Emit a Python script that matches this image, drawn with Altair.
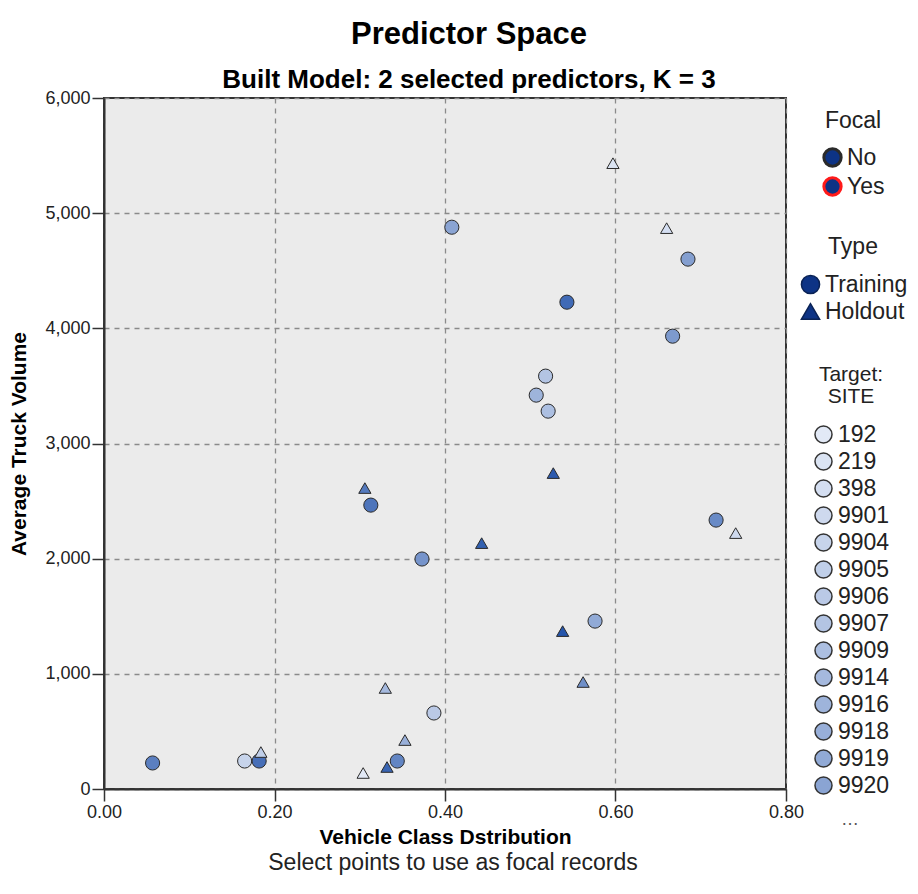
import altair as alt
import pandas as pd

# ---- data ----
x_vals = [0.408, 0.543, 0.685, 0.667, 0.518, 0.507, 0.521, 0.313, 0.373, 0.718,
          0.576, 0.387, 0.057, 0.165, 0.182, 0.344,
          0.597, 0.660, 0.306, 0.527, 0.443, 0.741, 0.538, 0.562, 0.330, 0.353,
          0.184, 0.304, 0.332]
y_vals = [4878, 4227, 4601, 3932, 3585, 3420, 3281, 2465, 1997, 2335,
          1458, 660, 226, 243, 243, 243,
          5434, 4870, 2613, 2743, 2135, 2222, 1371, 929, 877, 425,
          321, 139, 191]
types = ["Training"] * 16 + ["Holdout"] * 13
site_idx = [13, 24, 14, 15, 7, 10, 8, 22, 16, 18,
            12, 6, 20, 4, 23, 19,
            1, 2, 21, 27, 26, 3, 28, 17, 9, 11,
            5, 0, 25]
sites = ["192", "219", "398", "9901", "9904", "9905", "9906", "9907", "9909",
         "9914", "9916", "9918", "9919", "9920", "9921", "9922", "9923", "9924",
         "9925", "9926", "9927", "9928", "9929", "9930", "9931", "9932", "9933",
         "9934", "9935"]
legend_sites = sites[:14]
focal = ["No"] * 29

df = pd.DataFrame({
    "Vehicle Class Dstribution": x_vals,
    "Average Truck Volume": y_vals,
    "Type": types,
    "SITE": [sites[i] for i in site_idx],
    "Focal": focal,
})

# colour ramp for the site legend (style)
def ramp(c0, c1, n):
    a = [int(c0[i:i + 2], 16) for i in (1, 3, 5)]
    b = [int(c1[i:i + 2], 16) for i in (1, 3, 5)]
    out = []
    for k in range(n):
        t = k / (n - 1)
        out.append("#" + "".join(f"{round(a[j] + (b[j] - a[j]) * t):02x}" for j in range(3)))
    return out

site_colors = ramp("#e2e9f6", "#2555ab", len(sites))
NAVY = "#0d3385"
FONT = "Liberation Sans"

points = alt.Chart(df).mark_point(filled=True, opacity=1, strokeWidth=1).encode(
    x=alt.X("Vehicle Class Dstribution:Q",
            scale=alt.Scale(domain=[0, 0.8], nice=False, zero=False),
            axis=alt.Axis(values=[0, 0.2, 0.4, 0.6, 0.8], format=".2f",
                          labelFlush=False, titlePadding=5)),
    y=alt.Y("Average Truck Volume:Q",
            scale=alt.Scale(domain=[0, 6000], nice=False),
            axis=alt.Axis(values=[0, 1000, 2000, 3000, 4000, 5000, 6000],
                          format=",d", labelFlush=False, titlePadding=15)),
    fill=alt.Fill("SITE:N", sort=sites,
                  scale=alt.Scale(domain=sites, range=site_colors),
                  legend=alt.Legend(title=["Target:", "SITE"], orient="none",
                                    legendX=708, legendY=266, values=legend_sites,
                                    symbolType="circle", symbolSize=290,
                                    symbolStrokeColor="#333333",
                                    symbolStrokeWidth=1.5, rowPadding=2,
                                    titleFontSize=21, titlePadding=16,
                                    titleLineHeight=22)),
    stroke=alt.Stroke("Focal:N",
                      scale=alt.Scale(domain=["No", "Yes"], range=["#2a2a2a", "#ff1a1a"]),
                      legend=alt.Legend(title="Focal", orient="none", legendX=717,
                                        legendY=12, symbolType="circle",
                                        symbolSize=300, symbolStrokeWidth=3,
                                        symbolFillColor=NAVY, rowPadding=-2,
                                        titlePadding=13)),
    shape=alt.Shape("Type:N",
                    scale=alt.Scale(domain=["Training", "Holdout"],
                                    range=["circle", "triangle-up"]),
                    legend=alt.Legend(title="Type", orient="none", legendX=695,
                                      legendY=138, symbolSize=330,
                                      symbolFillColor=NAVY,
                                      symbolStrokeColor="#0a2255",
                                      symbolStrokeWidth=1.5, rowPadding=3,
                                      titlePadding=14)),
    size=alt.condition(alt.datum.Type == "Training", alt.value(200), alt.value(150)),
)

caption = alt.Chart(pd.DataFrame({"t": ["Select points to use as focal records"]})).mark_text(
    font=FONT, fontSize=23, color="#222222", align="center", baseline="middle"
).encode(x=alt.value(349), y=alt.value(765), text="t:N")

more = alt.Chart(pd.DataFrame({"t": ["…"]})).mark_text(
    font=FONT, fontSize=18, color="#555555", align="left", baseline="middle"
).encode(x=alt.value(737), y=alt.value(722), text="t:N")

chart = alt.layer(points, caption, more).properties(
    width=682, height=691,
    padding={"left": 96, "top": 90, "right": 124, "bottom": 97},
    autosize=alt.AutoSizeParams(type="none"),
    title=alt.TitleParams(
        "Predictor Space",
        subtitle="Built Model: 2 selected predictors, K = 3",
        font=FONT, fontSize=31, fontWeight="bold", color="#000000",
        subtitleFont=FONT, subtitleFontSize=26, subtitleFontWeight="bold",
        subtitleColor="#000000", subtitlePadding=16, anchor="middle",
        offset=-5, dx=24,
    ),
).configure_view(
    fill="#ebebeb", stroke="#333333", strokeWidth=2
).configure_axis(
    domainColor="#333333", domainWidth=2, tickColor="#333333", tickWidth=1.5,
    tickSize=12, labelFont=FONT, labelFontSize=18, labelColor="#222222",
    labelPadding=2, titleFont=FONT, titleFontSize=21, titleFontWeight="bold",
    titleColor="#000000", gridColor="#8a8a8a", gridDash=[5, 5], gridWidth=1.3,
    gridOpacity=1,
).configure_legend(
    labelFont=FONT, labelFontSize=23, labelColor="#222222", titleFont=FONT,
    titleFontSize=23, titleFontWeight="normal", titleColor="#222222",
    titleAnchor="middle", titleAlign="center", labelOffset=3,
    symbolBaseFillColor=NAVY, symbolBaseStrokeColor="#333333",
)

chart.save("out.html", embed_options={"renderer": "svg", "actions": False})
